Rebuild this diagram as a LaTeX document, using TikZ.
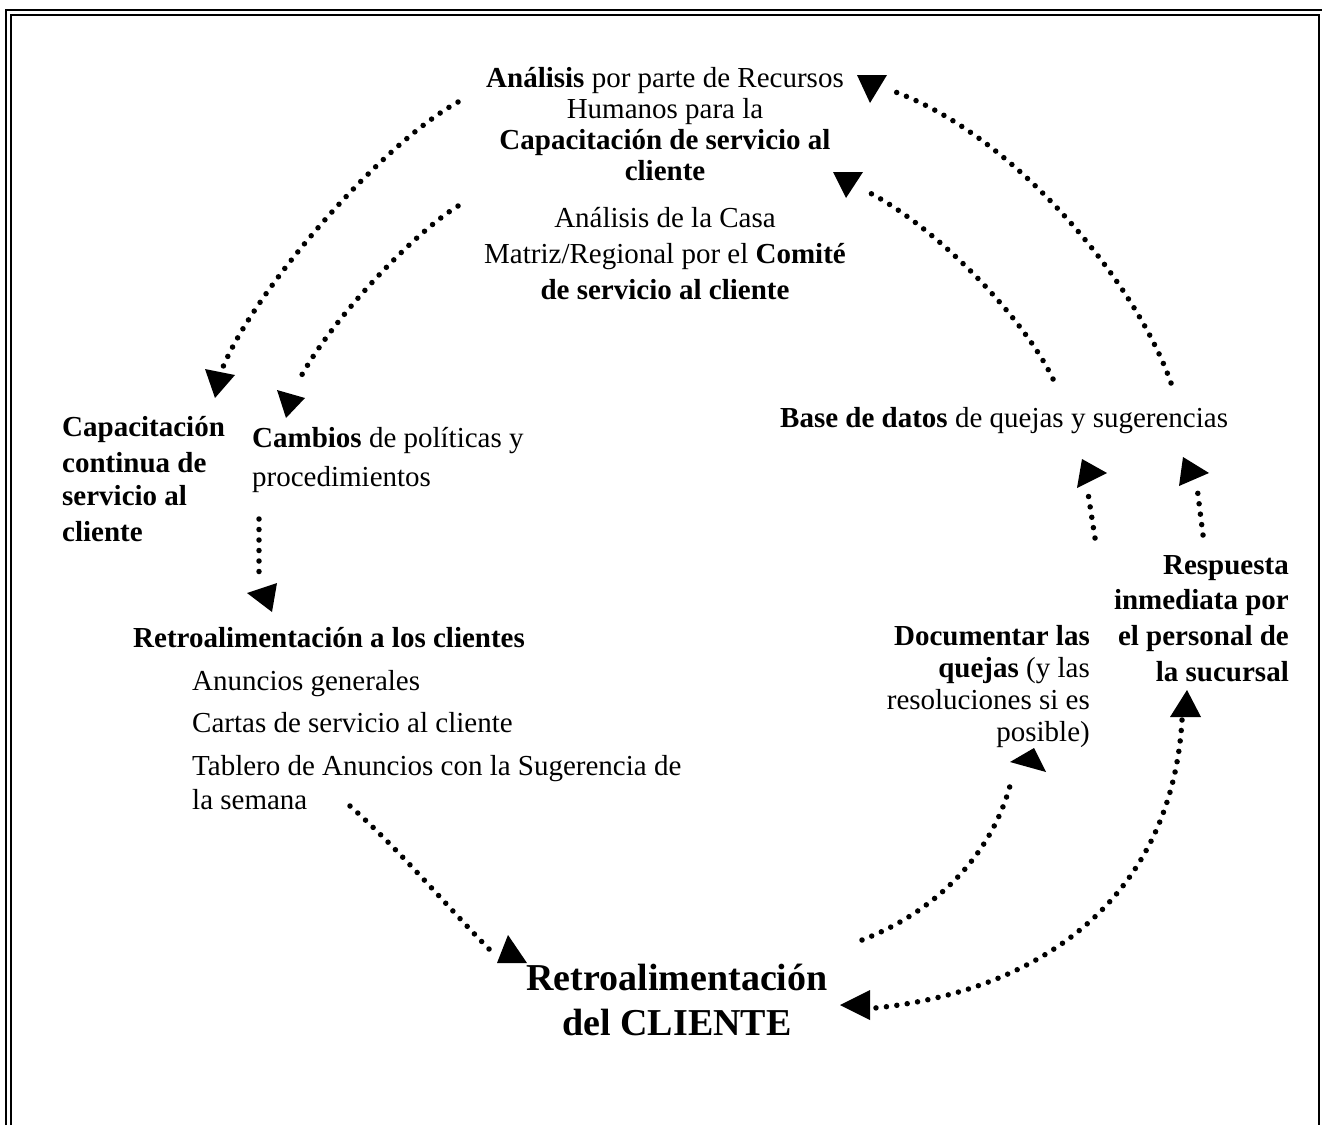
\documentclass[tikz,border=0pt]{standalone}
\usepackage{fontspec}
\setmainfont{Liberation Serif}
\begin{document}
\begin{tikzpicture}[x=1pt,y=-1pt,
  frame/.style={line width=2.2pt},
  txt/.style={inner sep=0pt,font=\fontsize{29}{32}\selectfont},
  big/.style={inner sep=0pt,font=\fontsize{38}{44}\selectfont\bfseries},
  dots/.style={line width=5.5pt,line cap=round,dash pattern=on 0pt off 10.5pt},
  head/.style={fill=black}]
\useasboundingbox (0,0) rectangle (1322,1125);
% frame
\draw[frame] (6,1125) -- (6,10) -- (1322,10);
\draw[frame] (11,1125) -- (11,15) -- (1319,15) -- (1319,1125);
% top block
\node[txt,anchor=base] (t1) at (665,87) {\textbf{Análisis} por parte de Recursos};
\node[txt,anchor=base] (t2) at (665,118) {Humanos para la};
\node[txt,anchor=base] (t3) at (665,149) {\textbf{Capacitación de servicio al}};
\node[txt,anchor=base] (t4) at (665,180) {\textbf{cliente}};
% second block
\node[txt,anchor=base] (s1) at (665,227) {Análisis de la Casa};
\node[txt,anchor=base] (s2) at (665,263) {Matriz/Regional por el \textbf{Comité}};
\node[txt,anchor=base] (s3) at (665,299) {\textbf{de servicio al cliente}};
% left
\node[txt,anchor=base west] (c1) at (62,436) {\textbf{Capacitación}};
\node[txt,anchor=base west] (c2) at (62,472) {\textbf{continua de}};
\node[txt,anchor=base west] (c3) at (62,505) {\textbf{servicio al}};
\node[txt,anchor=base west] (c4) at (62,541) {\textbf{cliente}};
\node[txt,anchor=base west] (p1) at (252,447) {\textbf{Cambios} de políticas y};
\node[txt,anchor=base west] (p2) at (252,486) {procedimientos};
% retro a los clientes
\node[txt,anchor=base west] (r0) at (133,647) {\textbf{Retroalimentación a los clientes}};
\node[txt,anchor=base west] (r1) at (192,690) {Anuncios generales};
\node[txt,anchor=base west] (r2) at (192,732) {Cartas de servicio al cliente};
\node[txt,anchor=base west] (r3) at (192,775) {Tablero de Anuncios con la Sugerencia de};
\node[txt,anchor=base west] (r4) at (192,809) {la semana};
% base de datos
\node[txt,anchor=base west] (b1) at (780,427) {\textbf{Base de datos} de quejas y sugerencias};
% respuesta
\node[txt,anchor=base east] (q1) at (1289,574) {\textbf{Respuesta}};
\node[txt,anchor=base east] (q2) at (1289,609) {\textbf{inmediata por}};
\node[txt,anchor=base east] (q3) at (1289,645) {\textbf{el personal de}};
\node[txt,anchor=base east] (q4) at (1289,681) {\textbf{la sucursal}};
% documentar
\node[txt,anchor=base east] (d1) at (1090,645) {\textbf{Documentar las}};
\node[txt,anchor=base east] (d2) at (1090,677) {\textbf{quejas} (y las};
\node[txt,anchor=base east] (d3) at (1090,709) {resoluciones si es};
\node[txt,anchor=base east] (d4) at (1090,741) {posible)};
% big title
\node[big,anchor=base] (g1) at (677,990) {Retroalimentación};
\node[big,anchor=base] (g2) at (677,1035) {del CLIENTE};
% connector endpoints
\coordinate (a0) at (458,102); \coordinate (a1) at (223,367);
\coordinate (b0) at (458,206); \coordinate (b1) at (298,382);
\coordinate (c0) at (1171,383); \coordinate (c1) at (887,89);
\coordinate (e0) at (1053,379); \coordinate (e1) at (870,193);
\coordinate (f0) at (259,519); \coordinate (f1) at (259,577);
\coordinate (h0) at (1095,538); \coordinate (h1) at (1088,493);
\coordinate (k0) at (1203,535); \coordinate (k1) at (1197,487);
\coordinate (m0) at (350,806); \coordinate (m1) at (492,952);
\coordinate (n0) at (862,940); \coordinate (n1) at (1012,778);
\coordinate (u0) at (1182,720); \coordinate (u1) at (875,1008);
% connectors
\draw[dots] (a0) .. controls (380,145) and (255,290) .. (a1);
\draw[dots] (b0) .. controls (415,232) and (330,320) .. (b1);
\draw[dots] (c0) .. controls (1135,280) and (1010,130) .. (c1);
\draw[dots] (e0) .. controls (1025,320) and (940,230) .. (e1);
\draw[dots] (f0) -- (f1);
\draw[dots] (h0) -- (h1);
\draw[dots] (k0) -- (k1);
\draw[dots] (m0) .. controls (400,850) and (450,910) .. (m1);
\draw[dots] (n0) .. controls (940,910) and (995,850) .. (n1);
\draw[dots] (u0) .. controls (1172,890) and (1050,990) .. (u1);
% arrow heads
\fill[head] (205,369) -- (235,375) -- (215,398) -- cycle;
\fill[head] (277,390) -- (305,398) -- (286,418) -- cycle;
\fill[head] (857,75) -- (887,75) -- (870,103) -- cycle;
\fill[head] (833,172) -- (863,172) -- (846,198) -- cycle;
\fill[head] (247,593) -- (277,583) -- (272,612) -- cycle;
\fill[head] (1082,459) -- (1107,473) -- (1077,488) -- cycle;
\fill[head] (1183,457) -- (1209,473) -- (1179,486) -- cycle;
\fill[head] (508,935) -- (527,963) -- (497,963) -- cycle;
\fill[head] (1010,762) -- (1034,748) -- (1046,772) -- cycle;
\fill[head] (1170,717) -- (1187,690) -- (1201,717) -- cycle;
\fill[head] (840,1005) -- (870,990) -- (870,1020) -- cycle;
\end{tikzpicture}
\end{document}
